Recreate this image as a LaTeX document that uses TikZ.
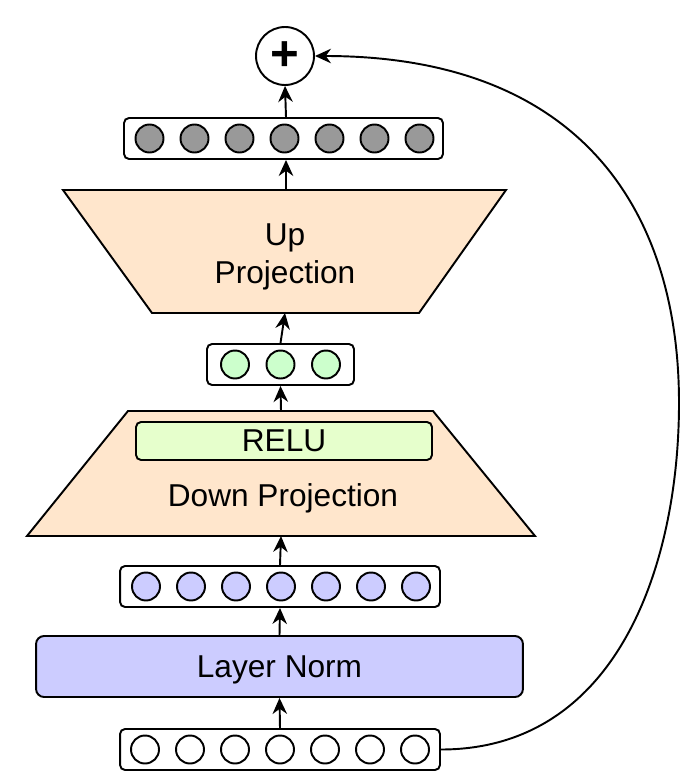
\documentclass[tikz,border=0pt]{standalone}
\usepackage{fontspec}
\setmainfont{Liberation Sans}
\usetikzlibrary{arrows.meta}
\definecolor{peach}{HTML}{FFE6CC}
\definecolor{relugreen}{HTML}{E6FFCC}
\definecolor{cellgreen}{HTML}{CCFFCC}
\definecolor{lavender}{HTML}{CCCCFF}
\definecolor{cellgrey}{HTML}{999999}

\begin{document}
\begin{tikzpicture}[x=0.02cm,y=-0.02cm,line width=1.1pt,
  >={Stealth[length=0.32cm,width=0.29cm]},
  lbl/.style={font=\fontsize{18}{21.6}\selectfont},
  vec/.style={draw,rounded corners=0.1cm,minimum height=0.82cm,inner sep=0},
  cell/.style={draw,circle,minimum size=0.56cm,inner sep=0},
  proj/.style={draw,fill=peach,line join=miter}]
\useasboundingbox (0,0) rectangle (690,777);
% input vector
\node[vec,minimum width=6.4cm] (xin) at (280,749.5) {};
\foreach \i in {1,...,7}
  \node[cell,fill=white] (xin\i) at ({280+45*(\i-4)},749.5) {};
% layer norm
\node[lbl,draw,fill=lavender,rounded corners=0.16cm,minimum width=9.74cm,
  minimum height=1.22cm,text depth=0pt] (ln) at (279.5,666.5) {Layer Norm};
\node[vec,minimum width=6.4cm] (bvec) at (280,586.5) {};
\foreach \i in {1,...,7}
  \node[cell,fill=lavender] (bvec\i) at ({281+45*(\i-4)},586.5) {};
% down projection
\draw[proj] (128,411) -- (433,411) -- (535,536) -- (27,536) -- cycle;
\coordinate (dproj-top) at (281,411);
\coordinate (dproj-bot) at (281,536);
\node[lbl,draw,fill=relugreen,rounded corners=0.1cm,minimum width=5.92cm,
  minimum height=0.76cm,inner sep=0,text depth=0pt] (relu) at (284,441) {RELU};
\node[lbl] (dtext) at (283,498) {Down Projection};
\node[vec,minimum width=2.94cm] (gnvec) at (280.5,364.5) {};
\foreach \i in {1,2,3}
  \node[cell,fill=cellgreen] (gnvec\i) at ({280.5+45.5*(\i-2)},364.5) {};
% up projection
\draw[proj] (63,190) -- (506,190) -- (419,313) -- (152,313) -- cycle;
\coordinate (uproj-top) at (286,190);
\coordinate (uproj-bot) at (285,313);
\node[lbl,align=center] (utext) at (285,257) {Up\\Projection};
\node[vec,minimum width=6.38cm] (gvec) at (283.5,138.5) {};
\foreach \i in {1,...,7}
  \node[cell,fill=cellgrey] (gvec\i) at ({284.5+45*(\i-4)},138.5) {};
% sum
\node[draw,circle,fill=white,minimum size=1.16cm,inner sep=0,
  font=\fontsize{28}{28}\selectfont\bfseries] (plus) at (285,56) {+};

\draw[->] (xin.north) -- (ln.south);
\draw[->] (ln.north) -- (bvec.south);
\draw[->] (bvec.north) -- (dproj-bot);
\draw[->] (dproj-top) -- (gnvec.south);
\draw[->] (gnvec.north) -- (uproj-bot);
\draw[->] (uproj-top) -- (gvec.south -| uproj-top);
\draw[->] (gvec.north -| uproj-top) -- (plus.south);
% residual
\draw[->] (xin.east) .. controls (620,749.5) and (679,560) .. (679,403)
  .. controls (679,210) and (580,56) .. (plus.east);
\end{tikzpicture}
\end{document}
